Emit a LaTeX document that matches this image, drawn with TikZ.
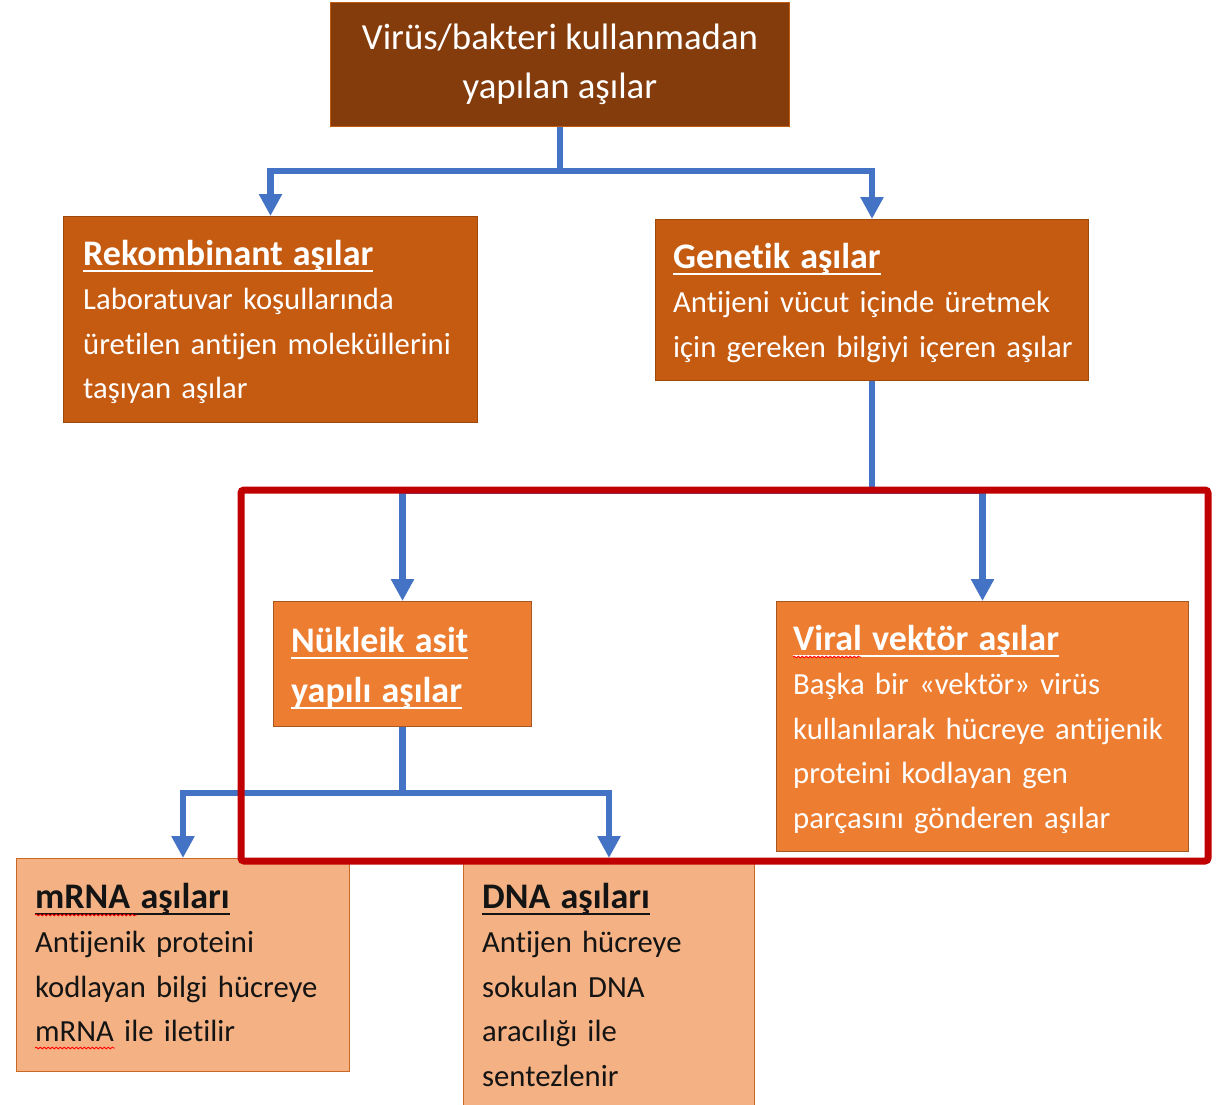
\documentclass[tikz,border=0pt]{standalone}
\usepackage{fontspec}
\setmainfont{Carlito}[Ligatures=NoCommon]
\usetikzlibrary{arrows.meta,positioning,decorations.pathmorphing}

\definecolor{topbrown}{HTML}{843C0C}
\definecolor{rustorange}{HTML}{C55A11}
\definecolor{midorange}{HTML}{ED7D31}
\definecolor{paleorange}{HTML}{F4B183}
\definecolor{linkblue}{HTML}{4472C4}
\definecolor{framered}{HTML}{C00000}

\newsavebox\titlebox
\newcommand\boxtitle[1]{\leavevmode\sbox\titlebox{\fontsize{36}{44.5}\selectfont\bfseries #1}%
  \rlap{\rule[-6.5pt]{\wd\titlebox}{2pt}}\usebox\titlebox}

\tikzset{
  panel/.style={rectangle, anchor=north west, inner sep=0pt, line width=1pt},
  topbox/.style={panel, fill=topbrown, draw=rustorange, text=white, align=center,
    font=\fontsize{36.8}{49}\selectfont},
  darkbox/.style={panel, fill=rustorange, draw=rustorange!80!black},
  midbox/.style={panel, fill=midorange, draw=midorange!70!black},
  palebox/.style={panel, fill=paleorange, draw=rustorange!85!paleorange},
  boxtext/.style={anchor=base west, inner sep=0pt, text width=440pt, align=left,
    font=\fontsize{30.7}{44.5}\selectfont},
  link/.style={draw=linkblue, line width=6.5pt, -{Triangle[width=22pt,length=22pt]}},
  redframe/.style={draw=framered, line width=7pt, rounded corners=3pt},
  spellmark/.style={draw=red, line width=0.8pt, decorate,
    decoration={snake, amplitude=0.9pt, segment length=4pt}}
}

\begin{document}
\begin{tikzpicture}[x=1pt, y=-1pt]
  \clip (0,0) rectangle (1223,1105);

  % boxes
  \node[topbox, minimum width=459pt, minimum height=124pt] (top) at (330,2)
    {Virüs/bakteri kullanmadan\\yapılan aşılar};
  \node[darkbox, minimum width=414pt, minimum height=206pt] (rek) at (63,216) {};
  \node[darkbox, minimum width=433pt, minimum height=161pt] (gen) at (655,219) {};
  \node[midbox, minimum width=258pt, minimum height=125pt] (nuk) at (273,601) {};
  \node[midbox, minimum width=412pt, minimum height=250pt] (vir) at (776,601) {};
  \node[palebox, minimum width=333pt, minimum height=213pt] (mrna) at (16,858) {};
  \node[palebox, minimum width=291pt, minimum height=270pt] (dna) at (463,858) {};

  % texts
  \node[boxtext, text=white] (rektxt) at ([shift={(20,49)}]rek.north west)
    {\boxtitle{Rekombinant aşılar}\\Laboratuvar koşullarında\\üretilen antijen moleküllerini\\taşıyan aşılar};
  \node[boxtext, text=white] (gentxt) at ([shift={(18,49)}]gen.north west)
    {\boxtitle{Genetik aşılar}\\Antijeni vücut içinde üretmek\\için gereken bilgiyi içeren aşılar};
  \node[boxtext, text=white, font=\fontsize{30.7}{50}\selectfont] (nuktxt) at ([shift={(18,51)}]nuk.north west)
    {\boxtitle{Nükleik asit}\\\boxtitle{yapılı aşılar}};
  \node[boxtext, text=white] (virtxt) at ([shift={(17,49)}]vir.north west)
    {\boxtitle{Viral vektör aşılar}\\Başka bir «vektör» virüs\\kullanılarak hücreye antijenik\\proteini kodlayan gen\\parçasını gönderen aşılar};
  \node[boxtext, text=black!92] (mrnatxt) at ([shift={(19,50)}]mrna.north west)
    {\boxtitle{mRNA aşıları}\\Antijenik proteini\\kodlayan bilgi hücreye\\mRNA ile iletilir};
  \node[boxtext, text=black!92] (dnatxt) at ([shift={(19,50)}]dna.north west)
    {\boxtitle{DNA aşıları}\\Antijen hücreye\\sokulan DNA\\aracılığı ile\\sentezlenir};

  % spell-check marks
  \draw[spellmark] ([shift={(0,7)}]virtxt.base west) -- ++(68,0);
  \draw[spellmark] ([shift={(0,7)}]mrnatxt.base west) -- ++(102,0);
  \draw[spellmark] ([shift={(0,140)}]mrnatxt.base west) -- ++(80,0);

  % connectors
  \draw[link] (top.south) -- ++(0,44) -| (rek.north);
  \draw[link] (top.south) -- ++(0,44) -| (gen.north);
  \draw[link] (gen.south) -- ++(0,110) -| (nuk.north);
  \draw[link] (gen.south) -- ++(0,110) -| (vir.north);
  \draw[link] (nuk.south) -- ++(0,66) -| (mrna.north);
  \draw[link] (nuk.south) -- ++(0,66) -| (dna.north);

  % highlight frame
  \draw[redframe] (241,490) rectangle (1208,861);
\end{tikzpicture}
\end{document}
